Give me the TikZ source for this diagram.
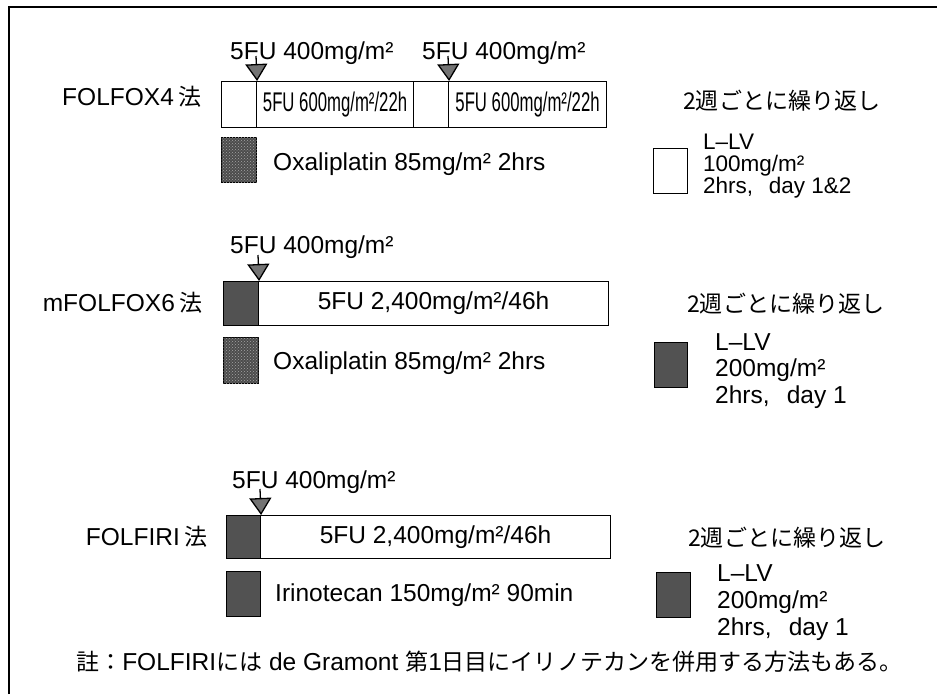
\documentclass[tikz,border=0pt]{standalone}
\usepackage{fontspec}
\setmainfont{Liberation Sans}
\newfontfamily\jp{Noto Sans CJK JP}[Scale=0.94]
\usetikzlibrary{arrows.meta,patterns}
\begin{document}
\begin{tikzpicture}[x=1pt,y=-1pt,
  txt/.style={inner sep=0pt, font=\fontsize{24.5}{27}\selectfont},
  stxt/.style={inner sep=0pt, font=\fontsize{22.5}{24}\selectfont},
  barbox/.style={draw, line width=1.1pt, inner sep=0pt, anchor=north west},
  darkbox/.style={barbox, fill=black!68},
  oxabox/.style={barbox, fill=black!70, postaction={pattern=crosshatch dots, pattern color=black!35}},
  arr/.style={line width=1.3pt, -{Triangle[width=22pt,length=17pt,fill=black!55]}},
  cond/.style={inner sep=0pt}
]
\useasboundingbox (0,0) rectangle (937,694);
% frame
\draw[line width=1.2pt] (9,694) -- (9,7) -- (937,7);

% ---------- FOLFOX4 ----------
\node[txt, anchor=base east] (n1) at (202,105) {FOLFOX4\hspace{0.2em}{\jp 法}};
\node[barbox, minimum width=35pt, minimum height=46pt] (b1a) at (221,81) {};
\node[barbox, minimum width=157pt, minimum height=46pt] (b1b) at (256,81) {};
\node[barbox, minimum width=35pt, minimum height=46pt] (b1c) at (413,81) {};
\node[barbox, minimum width=158pt, minimum height=46pt] (b1d) at (448,81) {};
\node[cond] (c1b) at (b1b.center) {\scalebox{0.62}[1]{\fontsize{27}{29}\selectfont 5FU 600mg/m²/22h}};
\node[cond] (c1d) at (b1d.center) {\scalebox{0.62}[1]{\fontsize{27}{29}\selectfont 5FU 600mg/m²/22h}};
\node[txt, anchor=base west] (l1a) at (230,59) {5FU 400mg/m²};
\node[txt, anchor=base west] (l1b) at (422,59) {5FU 400mg/m²};
\coordinate (s1a) at (256,56);
\coordinate (s1b) at (448,56);
\draw[arr] (s1a) -- (b1a.north east);
\draw[arr] (s1b) -- (b1c.north east);
\node[oxabox, minimum width=35pt, minimum height=45pt] (o1) at (221,137) {};
\node[txt, anchor=base west] (o1t) at (273,170) {Oxaliplatin 85mg/m² 2hrs};
\node[txt, anchor=base west] (r1) at (683,109) {\jp 2週ごとに繰り返し};
\node[barbox, minimum width=34pt, minimum height=45pt] (q1) at (653,148) {};
\node[stxt, anchor=base west] (q1a) at (703,149) {L–LV};
\node[stxt, anchor=base west] (q1b) at (703,171) {100mg/m²};
\node[stxt, anchor=base west] (q1c) at (703,193) {2hrs,\hspace{0.7em}day 1\&2};

% ---------- mFOLFOX6 ----------
\node[txt, anchor=base east] (n2) at (203,311) {mFOLFOX6\hspace{0.2em}{\jp 法}};
\node[darkbox, minimum width=35pt, minimum height=44pt] (b2a) at (223,281) {};
\node[barbox, minimum width=350pt, minimum height=44pt] (b2b) at (258,281) {};
\node[txt] (c2) at (b2b.center) {5FU 2,400mg/m²/46h};
\node[txt, anchor=base west] (l2) at (230,253) {5FU 400mg/m²};
\coordinate (s2) at (258,255);
\draw[arr] (s2) -- (b2a.north east);
\node[oxabox, minimum width=35pt, minimum height=46pt] (o2) at (223,337) {};
\node[txt, anchor=base west] (o2t) at (273,369) {Oxaliplatin 85mg/m² 2hrs};
\node[txt, anchor=base west] (r2) at (687,312) {\jp 2週ごとに繰り返し};
\node[darkbox, minimum width=33pt, minimum height=45pt] (q2) at (654,342) {};
\node[txt, anchor=base west] (q2a) at (715,350) {L–LV};
\node[txt, anchor=base west] (q2b) at (715,376) {200mg/m²};
\node[txt, anchor=base west] (q2c) at (715,403) {2hrs,\hspace{0.7em}day 1};

% ---------- FOLFIRI ----------
\node[txt, anchor=base east] (n3) at (208,545) {FOLFIRI\hspace{0.2em}{\jp 法}};
\node[darkbox, minimum width=34pt, minimum height=43pt] (b3a) at (226,515) {};
\node[barbox, minimum width=350pt, minimum height=43pt] (b3b) at (260,515) {};
\node[txt] (c3) at (b3b.center) {5FU 2,400mg/m²/46h};
\node[txt, anchor=base west] (l3) at (232,488) {5FU 400mg/m²};
\coordinate (s3) at (260,489);
\draw[arr] (s3) -- (b3a.north east);
\node[darkbox, minimum width=34pt, minimum height=45pt] (o3) at (226,571) {};
\node[txt, anchor=base west] (o3t) at (275,601) {Irinotecan 150mg/m² 90min};
\node[txt, anchor=base west] (r3) at (688,546) {\jp 2週ごとに繰り返し};
\node[darkbox, minimum width=34pt, minimum height=45pt] (q3) at (656,572) {};
\node[txt, anchor=base west] (q3a) at (717,581) {L–LV};
\node[txt, anchor=base west] (q3b) at (717,608) {200mg/m²};
\node[txt, anchor=base west] (q3c) at (717,635) {2hrs,\hspace{0.7em}day 1};

% note
\node[txt, anchor=base west] (note) at (76,670) {{\jp 註：}FOLFIRI{\jp には} de Gramont {\jp 第}1{\jp 日目にイリノテカンを併用する方法もある。}};
\end{tikzpicture}
\end{document}
